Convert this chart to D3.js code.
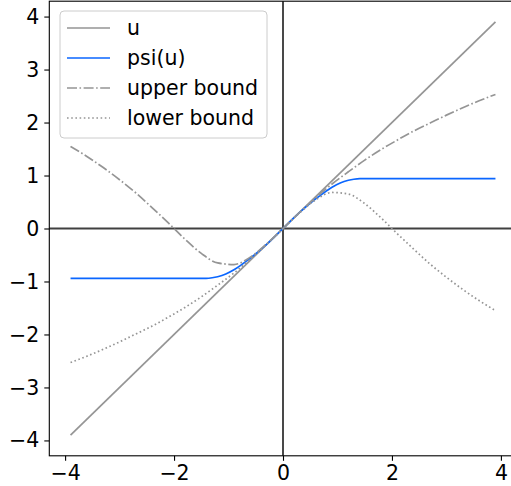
<!DOCTYPE html>
<html>
<head>
  <meta charset="utf-8">
  <script src="https://d3js.org/d3.v7.min.js"></script>
  <style>
    body { margin: 0; background: #fff; }
    text { font-family: "DejaVu Sans", sans-serif; }
  </style>
</head>
<body>
  <svg id="chart" width="511" height="486"></svg>
  <script>
    // values
    var uX = [-3.9, 3.9];
    var uY = [-3.9, 3.9];

    var psiX = [-3.9, -1.41, -1.3, -1.2, -1.05, -0.9, -0.6, -0.3, 0, 0.3, 0.6, 0.9, 1.05, 1.2, 1.3, 1.41, 3.9];
    var psiY = [-0.94, -0.94, -0.93, -0.91, -0.86, -0.78, -0.56, -0.30, 0, 0.30, 0.56, 0.78, 0.86, 0.91, 0.93, 0.94, 0.94];

    var boundX = [-3.9, -3.6, -3.3, -3.0, -2.7, -2.4, -2.1, -1.8, -1.5, -1.2, -0.9, -0.6, -0.3, 0,
                  0.3, 0.6, 0.9, 1.2, 1.5, 1.8, 2.1, 2.4, 2.7, 3.0, 3.3, 3.6, 3.9];
    var upperY = [1.55, 1.36, 1.15, 0.92, 0.67, 0.39, 0.10, -0.20, -0.47, -0.65, -0.68, -0.54, -0.29, 0,
                  0.30, 0.58, 0.84, 1.07, 1.29, 1.49, 1.67, 1.84, 1.99, 2.14, 2.28, 2.41, 2.53];
    var lowerY = [-2.53, -2.41, -2.28, -2.14, -1.99, -1.84, -1.67, -1.49, -1.29, -1.07, -0.84, -0.58, -0.30, 0,
                  0.29, 0.54, 0.68, 0.65, 0.47, 0.20, -0.10, -0.39, -0.67, -0.92, -1.15, -1.36, -1.55];

    var ticks = [-4, -2, 0, 2, 4];
    var yTicks = [-4, -3, -2, -1, 0, 1, 2, 3, 4];
    var legendNames = ["u", "psi(u)", "upper bound", "lower bound"];

    (function() {
    var svg = d3.select("#chart");
    var pLeft = 49.3, pRight = 516.7, pTop = 1.2, pBottom = 455.8;

    var x = d3.scaleLinear().domain([-4.29, 4.29]).range([pLeft, pRight]);
    var y = d3.scaleLinear().domain([-4.29, 4.29]).range([pBottom, pTop]);

    var styles = [
      {color: "#959595", dash: null},
      {color: "#0a66ff", dash: null},
      {color: "#959595", dash: "10,2.5,1.6,2.5"},
      {color: "#959595", dash: "1.6,2.6"}
    ];

    // zero lines
    svg.append("line")
      .attr("x1", x(0)).attr("x2", x(0)).attr("y1", pTop).attr("y2", pBottom)
      .attr("stroke", "#404040").attr("stroke-width", 1.9);
    svg.append("line")
      .attr("x1", pLeft).attr("x2", pRight).attr("y1", y(0)).attr("y2", y(0))
      .attr("stroke", "#404040").attr("stroke-width", 1.9);

    var line = d3.line().x(d => x(d[0])).y(d => y(d[1])).curve(d3.curveMonotoneX);
    var series = [
      d3.zip(uX, uY),
      d3.zip(psiX, psiY),
      d3.zip(boundX, upperY),
      d3.zip(boundX, lowerY)
    ];

    series.forEach(function(s, i) {
      svg.append("path")
        .datum(s)
        .attr("d", line)
        .attr("fill", "none")
        .attr("stroke", styles[i].color)
        .attr("stroke-width", 1.7)
        .attr("stroke-dasharray", styles[i].dash);
    });

    // frame
    svg.append("rect")
      .attr("x", pLeft).attr("y", pTop)
      .attr("width", pRight - pLeft).attr("height", pBottom - pTop)
      .attr("fill", "none").attr("stroke", "#000").attr("stroke-width", 1.1);

    // axes
    var fmt = d => d < 0 ? "\u2212" + Math.abs(d) : d;
    var xAxis = svg.append("g")
      .attr("transform", "translate(0," + pBottom + ")")
      .call(d3.axisBottom(x).tickValues(ticks).tickSize(5).tickPadding(5).tickFormat(fmt));
    var yAxis = svg.append("g")
      .attr("transform", "translate(" + pLeft + ",0)")
      .call(d3.axisLeft(y).tickValues(yTicks).tickSize(5).tickPadding(5).tickFormat(fmt));
    [xAxis, yAxis].forEach(function(a) {
      a.select(".domain").remove();
      a.selectAll("text").attr("font-size", 20.5).attr("fill", "#000")
        .style("font-family", "DejaVu Sans");
      a.selectAll("line").attr("stroke", "#000").attr("stroke-width", 1.1);
    });

    // legend
    var lg = svg.append("g");
    lg.append("rect")
      .attr("x", 60).attr("y", 11).attr("width", 207).attr("height", 127)
      .attr("rx", 4).attr("fill", "#fff").attr("fill-opacity", 0.8)
      .attr("stroke", "#ccc").attr("stroke-width", 1);
    legendNames.forEach(function(name, i) {
      var ly = 28 + i * 30;
      lg.append("line")
        .attr("x1", 67).attr("x2", 110).attr("y1", ly).attr("y2", ly)
        .attr("stroke", styles[i].color).attr("stroke-width", 1.7)
        .attr("stroke-dasharray", styles[i].dash);
      lg.append("text")
        .attr("x", 127).attr("y", ly).attr("dy", "0.35em")
        .attr("font-size", 20.5).attr("fill", "#000")
        .text(name);
    });
    })();
  </script>
</body>
</html>
